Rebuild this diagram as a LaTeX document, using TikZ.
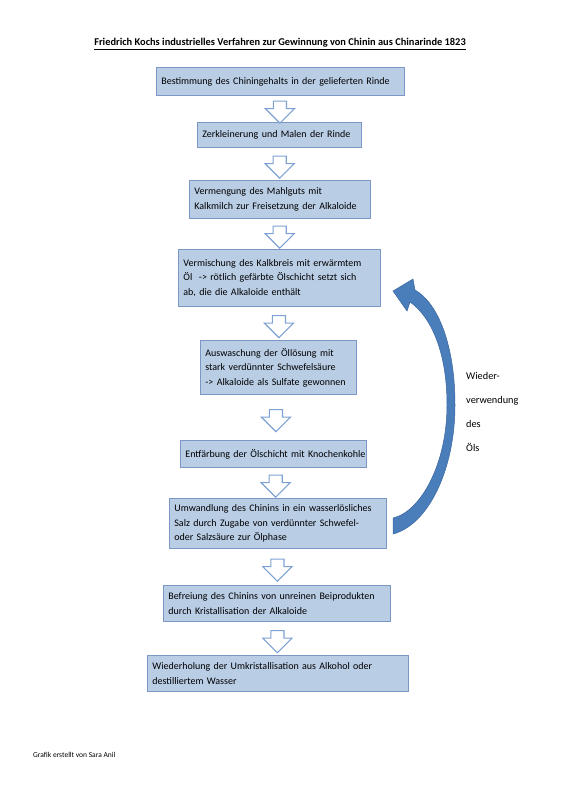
\documentclass[tikz,border=0pt]{standalone}
\usepackage{fontspec}
\setmainfont{Carlito}
\usepackage{xcolor}
\usetikzlibrary{calc,shapes.arrows,shadows}
\definecolor{chininblue}{HTML}{B9CDE5}
\definecolor{chininframe}{HTML}{7C97C4}
\definecolor{chininarrow}{HTML}{7EA2D4}
\definecolor{chinindark}{HTML}{4A7EBB}
\definecolor{chinindarkline}{HTML}{3A65A0}

\begin{document}
\begin{tikzpicture}[x=1pt,y=-1pt,
  stepbox/.style={rectangle,draw=chininframe,fill=chininblue,line width=0.8pt,
    anchor=north west,align=left,inner xsep=5pt,inner ysep=2pt,
    drop shadow={opacity=0.25,shadow xshift=1pt,shadow yshift=-1pt},
    font=\fontsize{10}{14.5}\selectfont},
  downarrow/.style={single arrow,draw=chininarrow,fill=white,line width=1.1pt,
    rotate=-90,inner xsep=0pt,inner ysep=6pt,single arrow head extend=8pt,
    minimum height=22pt},
  loop/.style={fill=chinindark,draw=chinindarkline,line width=0.5pt}
]
  \useasboundingbox (0,0) rectangle (560,792);

  \node[font=\fontsize{10.4}{12}\selectfont\bfseries] (title) at (280,44)
    {\underline{Friedrich Kochs industrielles Verfahren zur Gewinnung von Chinin aus Chinarinde 1823}};

  \node[stepbox,text width=238pt,minimum height=28pt] (b1) at (156,67)
    {Bestimmung des Chiningehalts in der gelieferten Rinde};
  \node[stepbox,text width=154pt,minimum height=25pt] (b2) at (197,122)
    {Zerkleinerung und Malen der Rinde};
  \node[stepbox,text width=171pt,minimum height=38pt] (b3) at (189,180)
    {\mbox{Vermengung des Mahlguts mit}\\\mbox{Kalkmilch zur Freisetzung der Alkaloide}};
  \node[stepbox,text width=192pt,minimum height=57pt] (b4) at (178,249)
    {Vermischung des Kalkbreis mit erwärmtem\\Öl~ -> rötlich gefärbte Ölschicht setzt sich\\ab, die die Alkaloide enthält};
  \node[stepbox,text width=146pt,minimum height=54pt] (b5) at (200,340)
    {Auswaschung der Öllösung mit\\stark verdünnter Schwefelsäure\\\mbox{-> Alkaloide als Sulfate gewonnen}};
  \node[stepbox,text width=176pt,minimum height=27pt] (b6) at (180,440)
    {\mbox{Entfärbung der Ölschicht mit Knochenkohle}};
  \node[stepbox,text width=207pt,minimum height=50pt] (b7) at (169,498)
    {Umwandlung des Chinins in ein wasserlösliches\\Salz durch Zugabe von verdünnter Schwefel-\\oder Salzsäure zur Ölphase};
  \node[stepbox,text width=217pt,minimum height=36pt] (b8) at (163,585)
    {Befreiung des Chinins von unreinen Beiprodukten\\durch Kristallisation der Alkaloide};
  \node[stepbox,text width=251pt,minimum height=36pt] (b9) at (147,655)
    {Wiederholung der Umkristallisation aus Alkohol oder\\destilliertem Wasser};

  \foreach \a/\b [count=\i] in {b1/b2,b2/b3,b3/b4,b4/b5,b5/b6,b6/b7,b7/b8,b8/b9}
    \node[downarrow] (arr\i) at ($(\a.south)!0.5!(\b.north)$) {};

  \coordinate (loopend) at (393,526);
  \coordinate (looptip) at (393,291);
  \path[loop] ($(loopend)+(0,8)$) .. controls (428,525) and (455,470) .. (455,405)
    .. controls (455,345) and (438,303) .. (415,290)
    -- (413,279) -- (looptip) -- (407,311) -- (410,302)
    .. controls (430,316) and (447,350) .. (447,405)
    .. controls (447,465) and (420,512) .. ($(loopend)+(0,-8)$) -- cycle;

  \node[anchor=north west,align=left,inner sep=0pt,
    font=\fontsize{10.3}{24}\selectfont] (reuse) at (466,372)
    {Wieder-\\verwendung\\des\\Öls};

  \node[anchor=west,inner sep=0pt,font=\fontsize{7.5}{9}\selectfont] (credit) at (33,755)
    {Grafik erstellt von Sara Anil};
\end{tikzpicture}
\end{document}
